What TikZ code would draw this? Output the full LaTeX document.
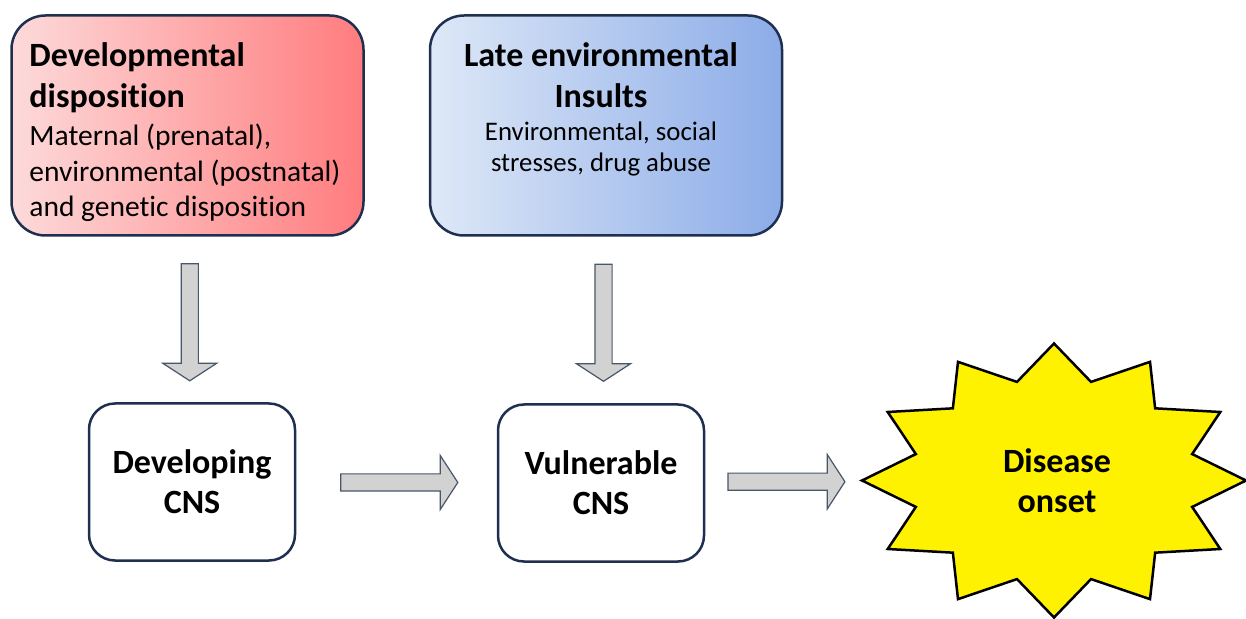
\documentclass[tikz,border=0pt]{standalone}
\usepackage{fontspec}
\setmainfont{Carlito}[Ligatures=NoCommon]
\usetikzlibrary{positioning,calc,shapes.arrows}

\definecolor{boxline}{HTML}{1F2F4F}
\definecolor{redl}{RGB}{253,218,218}
\definecolor{redr}{RGB}{255,124,126}
\definecolor{bluel}{RGB}{222,232,247}
\definecolor{bluer}{RGB}{140,172,232}
\definecolor{arrfill}{RGB}{210,210,210}
\definecolor{arrline}{RGB}{72,86,106}

\newcommand\titlefont{\fontsize{34}{41}\selectfont\bfseries}
\newcommand\bodyfont{\fontsize{29.5}{35.5}\selectfont}
\newcommand\smallbodyfont{\fontsize{26.8}{31}\selectfont}
\newcommand\cnsfont{\fontsize{34}{40}\selectfont\bfseries}

\tikzset{
  topbox/.style={draw=boxline,line width=2.5pt,rounded corners=34pt,
    minimum width=352pt,minimum height=220pt},
  cnsbox/.style={draw=boxline,fill=white,line width=2.5pt,rounded corners=26pt,
    minimum width=206pt,minimum height=157pt,align=center,font=\cnsfont},
  boxtitle/.style={inner sep=0pt,font=\titlefont},
  blockarrow/.style={single arrow,draw=arrline,fill=arrfill,line width=1.2pt,
    inner sep=8pt,minimum height=117pt,single arrow head extend=18.5pt,
    single arrow tip angle=114,single arrow head indent=0pt},
  onsetstar/.style={draw=black,fill=yellow,line width=2.5pt,line join=miter}
}

\begin{document}
\begin{tikzpicture}[x=1pt,y=1pt]
\useasboundingbox (0,0) rectangle (1246,618);

% upper boxes
\node[topbox,left color=redl,right color=redr] (devdisp) at (187.5,492.5) {};
\node[topbox,left color=bluel,right color=bluer] (lateins) at (606,492.5) {};

\node[boxtitle,anchor=north west,align=left] (devdisp-t)
  at ([shift={(19,-28)}]devdisp.north west) {Developmental\\disposition};
\node[inner sep=0pt,font=\bodyfont,align=left,below=11pt of devdisp-t.south west,anchor=north west]
  (devdisp-b) {Maternal (prenatal),\\environmental (postnatal)\\and genetic disposition};

\node[boxtitle,anchor=north,align=center] (lateins-t)
  at ([shift={(-5,-28)}]lateins.north) {Late environmental\\Insults};
\node[inner sep=0pt,font=\smallbodyfont,align=center,below=14pt of lateins-t.south]
  (lateins-b) {Environmental, social\\stresses, drug abuse};

% lower row
\node[cnsbox] (devcns) at (192,136) {Developing\\CNS};
\node[cnsbox] (vulcns) at (601,135) {Vulnerable\\CNS};

\coordinate (onsetc) at (1054,137.5);
\coordinate (onset-w) at (862,137.5);
\draw[onsetstar,shift={(onsetc)}] (90:192 and 137)
  \foreach \k [evaluate=\k as \r using {ifthenelse(mod(\k,2)==0,1,0.745)}] in {1,...,23}{
    -- ({90+15*\k}:{192*\r} and {137*\r})
  } -- cycle;
\node[align=center,font=\cnsfont] (onset) at ([xshift=3pt]onsetc) {Disease\\onset};

% block arrows
\foreach \a/\b/\ang [count=\i] in {devdisp.south/devcns.north/-90,
    lateins.south/vulcns.north/-90,devcns.east/vulcns.west/0,vulcns.east/onset-w/0}{
  \node[blockarrow,rotate=\ang] (arr-\i) at ($(\a)!0.5!(\b)$) {};
}
\end{tikzpicture}
\end{document}
